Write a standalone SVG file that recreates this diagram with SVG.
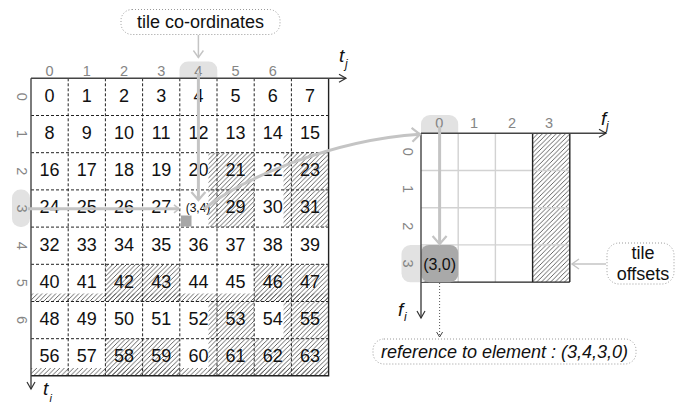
<svg xmlns="http://www.w3.org/2000/svg" width="676" height="405" viewBox="0 0 676 405">
  <defs>
    <style>
      text { font-family: "Liberation Sans", Arial, sans-serif; }
      .n { font-size: 18px; fill: #111; text-anchor: middle; }
      .hd { font-size: 14.5px; fill: #858585; text-anchor: middle; }
      .lbl { font-size: 18px; fill: #111; text-anchor: middle; }
      .ax { font-size: 19px; font-style: italic; fill: #111; }
      .sub { font-size: 12px; font-style: italic; fill: #111; }
      .dash { stroke: #222; stroke-width: 1; stroke-dasharray: 3 2; fill: none; }
      .solid { stroke: #222; stroke-width: 1.4; fill: none; }
      .fine { stroke: #d2d2d2; stroke-width: 1.4; fill: none; }
      .hatch { fill: url(#hatch); }
      .pill { fill: #e2e2e2; }
      .note { fill: #fff; stroke: #9a9a9a; stroke-width: 1; stroke-dasharray: 1 2; }
      .axis { stroke: #444; stroke-width: 1.4; fill: none; }
      .thick { stroke: #c4c4c4; stroke-width: 3; fill: none; }
      .thin { stroke: #c4c4c4; stroke-width: 1.5; fill: none; }
    </style>
    <pattern id="hatch" patternUnits="userSpaceOnUse" width="4.6" height="4.6">
      <path d="M-1,1 L1,-1 M0,4.6 L4.6,0 M3.6,5.6 L5.6,3.6" stroke="#4a4a4a" stroke-width="0.85"/>
    </pattern>
    <marker id="ahAxis" markerUnits="userSpaceOnUse" markerWidth="10" markerHeight="10" refX="7" refY="4" orient="auto" overflow="visible">
      <path d="M0,0 L7,4 L0,8" fill="none" stroke="#333" stroke-width="1.2"/>
    </marker>
    <marker id="ahBig" markerUnits="userSpaceOnUse" markerWidth="14" markerHeight="16" refX="8" refY="7" orient="auto" overflow="visible">
      <path d="M0,0 L8,7 L0,14" fill="none" stroke="#c4c4c4" stroke-width="2.2"/>
    </marker>
    <marker id="ahSmall" markerUnits="userSpaceOnUse" markerWidth="10" markerHeight="10" refX="5" refY="4" orient="auto" overflow="visible">
      <path d="M0,0 L5,4 L0,8" fill="none" stroke="#c4c4c4" stroke-width="1.6"/>
    </marker>
    <marker id="ahLabel" markerUnits="userSpaceOnUse" markerWidth="10" markerHeight="12" refX="7" refY="5" orient="auto" overflow="visible">
      <path d="M0,0 L7,5 L0,10" fill="none" stroke="#c4c4c4" stroke-width="1.4"/>
    </marker>
    <marker id="ahDot" markerUnits="userSpaceOnUse" markerWidth="8" markerHeight="8" refX="5" refY="3" orient="auto" overflow="visible">
      <path d="M0,0 L5,3 L0,6" fill="none" stroke="#444" stroke-width="1"/>
    </marker>
  </defs>

  <rect width="676" height="405" fill="#fff"/>

  <!-- tile matrix: 8 x 8 elements -->
  <g id="tile-matrix">
    <!-- padded (hatched) areas -->
    <rect class="hatch" x="208.5" y="152.7" width="45.7" height="74.4"/>
    <rect class="hatch" x="283.5" y="152.7" width="45.1" height="74.4"/>
    <rect class="hatch" x="105.4" y="264.3" width="74.4" height="37.2"/>
    <rect class="hatch" x="254.2" y="264.3" width="74.4" height="37.2"/>
    <rect class="hatch" x="31" y="293.5" width="297.6" height="8"/>
    <rect class="hatch" x="208.5" y="301.5" width="45.7" height="37.2"/>
    <rect class="hatch" x="283.5" y="301.5" width="45.1" height="37.2"/>
    <rect class="hatch" x="105.4" y="338.7" width="74.4" height="37.1"/>
    <rect class="hatch" x="208.5" y="338.7" width="120.1" height="37.1"/>
    <rect class="hatch" x="31" y="368" width="297.6" height="7.8"/>

    <!-- inner dashed grid -->
    <path class="dash" d="M68.2,78.3V375.8 M105.4,78.3V375.8 M142.6,78.3V375.8 M179.8,78.3V375.8 M217,78.3V375.8 M254.2,78.3V375.8 M291.4,78.3V375.8"/>
    <path class="dash" d="M31,115.5H328.6 M31,152.7H328.6 M31,189.9H328.6 M31,227.1H328.6 M31,264.3H328.6 M31,301.5H328.6 M31,338.7H328.6"/>
    <!-- outer border (top and left are the axes) -->
    <path class="solid" d="M328.6,78.3V375.8H31"/>

    <!-- selected element marker in tile (3,4) -->
    <rect x="181" y="215.5" width="10.5" height="11" fill="#a6a6a6"/>

    <!-- element numbers -->
    <g class="n">
      <text x="49.6" y="101.7">0</text><text x="86.8" y="101.7">1</text><text x="124" y="101.7">2</text><text x="161.2" y="101.7">3</text><text x="198.4" y="101.7">4</text><text x="235.6" y="101.7">5</text><text x="272.8" y="101.7">6</text><text x="310" y="101.7">7</text>
      <text x="49.6" y="138.9">8</text><text x="86.8" y="138.9">9</text><text x="124" y="138.9">10</text><text x="161.2" y="138.9">11</text><text x="198.4" y="138.9">12</text><text x="235.6" y="138.9">13</text><text x="272.8" y="138.9">14</text><text x="310" y="138.9">15</text>
      <text x="49.6" y="176.1">16</text><text x="86.8" y="176.1">17</text><text x="124" y="176.1">18</text><text x="161.2" y="176.1">19</text><text x="198.4" y="176.1">20</text><text x="235.6" y="176.1">21</text><text x="272.8" y="176.1">22</text><text x="310" y="176.1">23</text>
      <text x="49.6" y="213.3">24</text><text x="86.8" y="213.3">25</text><text x="124" y="213.3">26</text><text x="161.2" y="213.3">27</text><text x="198" y="211.5" style="font-size:12px">(3,4)</text><text x="235.6" y="213.3">29</text><text x="272.8" y="213.3">30</text><text x="310" y="213.3">31</text>
      <text x="49.6" y="250.5">32</text><text x="86.8" y="250.5">33</text><text x="124" y="250.5">34</text><text x="161.2" y="250.5">35</text><text x="198.4" y="250.5">36</text><text x="235.6" y="250.5">37</text><text x="272.8" y="250.5">38</text><text x="310" y="250.5">39</text>
      <text x="49.6" y="287.7">40</text><text x="86.8" y="287.7">41</text><text x="124" y="287.7">42</text><text x="161.2" y="287.7">43</text><text x="198.4" y="287.7">44</text><text x="235.6" y="287.7">45</text><text x="272.8" y="287.7">46</text><text x="310" y="287.7">47</text>
      <text x="49.6" y="324.9">48</text><text x="86.8" y="324.9">49</text><text x="124" y="324.9">50</text><text x="161.2" y="324.9">51</text><text x="198.4" y="324.9">52</text><text x="235.6" y="324.9">53</text><text x="272.8" y="324.9">54</text><text x="310" y="324.9">55</text>
      <text x="49.6" y="362.1">56</text><text x="86.8" y="362.1">57</text><text x="124" y="362.1">58</text><text x="161.2" y="362.1">59</text><text x="198.4" y="362.1">60</text><text x="235.6" y="362.1">61</text><text x="272.8" y="362.1">62</text><text x="310" y="362.1">63</text>
    </g>
  </g>

  <!-- tile co-ordinate axes -->
  <g id="tile-axes">
    <path class="pill" d="M179.5,78.3V70a8.5,8.5 0 0 1 8.5,-8.5H208.8a8.5,8.5 0 0 1 8.5,8.5V78.3Z"/>
    <rect class="pill" x="12" y="189.5" width="18" height="37.5" rx="8.5"/>
    <g class="hd">
      <text x="49.6" y="75.5">0</text><text x="86.8" y="75.5">1</text><text x="124" y="75.5">2</text><text x="161.2" y="75.5">3</text><text x="198.4" y="75.5">4</text><text x="235.6" y="75.5">5</text><text x="272.8" y="75.5">6</text>
    </g>
    <g class="hd">
      <text transform="translate(21.5,96.9) rotate(90)" y="5">0</text>
      <text transform="translate(21.5,134.1) rotate(90)" y="5">1</text>
      <text transform="translate(21.5,171.3) rotate(90)" y="5">2</text>
      <text transform="translate(21.5,208.5) rotate(90)" y="5">3</text>
      <text transform="translate(21.5,245.7) rotate(90)" y="5">4</text>
      <text transform="translate(21.5,282.9) rotate(90)" y="5">5</text>
      <text transform="translate(21.5,320.1) rotate(90)" y="5">6</text>
    </g>
    <path class="axis" d="M31,78.3H346" marker-end="url(#ahAxis)"/>
    <path class="axis" d="M31,78.3V389" marker-end="url(#ahAxis)"/>
    <text class="ax" x="339" y="62">t</text><text class="sub" x="345" y="68">j</text>
    <text class="ax" x="43" y="395">t</text><text class="sub" x="49.5" y="401.5" style="font-size:11px">i</text>
  </g>

  <!-- one tile: 4 x 4 elements -->
  <g id="tile">
    <rect class="hatch" x="532.6" y="133.3" width="37.2" height="148.8"/>
    <path class="fine" d="M458.2,133.3V282.1 M495.4,133.3V282.1 M421,170.5H569.8 M421,207.7H569.8 M421,244.9H569.8"/>
    <path class="solid" d="M532.6,133.3V282.1 M569.8,133.3V282.1 M421,282.1H569.8"/>
    <path class="pill" d="M421,133.3V124a9,9 0 0 1 9,-9H449.2a9,9 0 0 1 9,9V133.3Z"/>
    <rect class="pill" x="401.5" y="245" width="28" height="37.3" rx="9"/>
    <rect x="421" y="244.9" width="37.2" height="37.3" rx="8" fill="#a9a9a9"/>
    <text x="439.6" y="269.5" style="font-size:16px;fill:#111;text-anchor:middle">(3,0)</text>
    <g class="hd">
      <text x="439.3" y="128">0</text><text x="474" y="128">1</text><text x="512" y="128">2</text><text x="549" y="128">3</text>
    </g>
    <g class="hd">
      <text transform="translate(408,151.9) rotate(90)" y="5">0</text>
      <text transform="translate(408,189.1) rotate(90)" y="5">1</text>
      <text transform="translate(408,226.3) rotate(90)" y="5">2</text>
      <text transform="translate(408,263.5) rotate(90)" y="5">3</text>
    </g>
    <path class="axis" d="M421,133.3H606" marker-end="url(#ahAxis)"/>
    <path class="axis" d="M421,133.3V318" marker-end="url(#ahAxis)"/>
    <text class="ax" x="601" y="125">f</text><text class="sub" x="606" y="130">j</text>
    <text class="ax" x="398" y="316">f</text><text class="sub" x="404" y="321">i</text>
  </g>

  <!-- notes -->
  <g id="note-tile-coordinates">
    <rect class="note" x="121" y="9.5" width="159" height="25" rx="11"/>
    <text class="lbl" x="200.5" y="28">tile co-ordinates</text>
  </g>
  <g id="note-tile-offsets">
    <rect class="note" x="607" y="243" width="67" height="41" rx="12"/>
    <text class="lbl" x="643" y="259">tile</text>
    <text class="lbl" x="643" y="280">offsets</text>
  </g>
  <g id="note-reference">
    <rect class="note" x="373" y="339" width="263" height="25" rx="11"/>
    <text class="lbl" x="504.5" y="358" style="font-style:italic">reference to element : (3,4,3,0)</text>
  </g>

  <!-- connectors -->
  <g id="connectors">
    <path class="thin" d="M198.4,35V57.5" marker-end="url(#ahLabel)"/>
    <path class="thick" d="M198.4,73V200" marker-end="url(#ahBig)"/>
    <path class="thick" d="M28,208.8H179" marker-end="url(#ahSmall)"/>
    <path class="thick" d="M204,209C240,180 330,140 420,134.3" marker-end="url(#ahBig)"/>
    <path class="thick" d="M439.6,127V244" marker-end="url(#ahBig)"/>
    <path class="thin" d="M606,264H572" marker-end="url(#ahLabel)"/>
    <path d="M439.6,283V337" stroke="#555" stroke-width="1" stroke-dasharray="1 2" fill="none" marker-end="url(#ahDot)"/>
  </g>
</svg>
